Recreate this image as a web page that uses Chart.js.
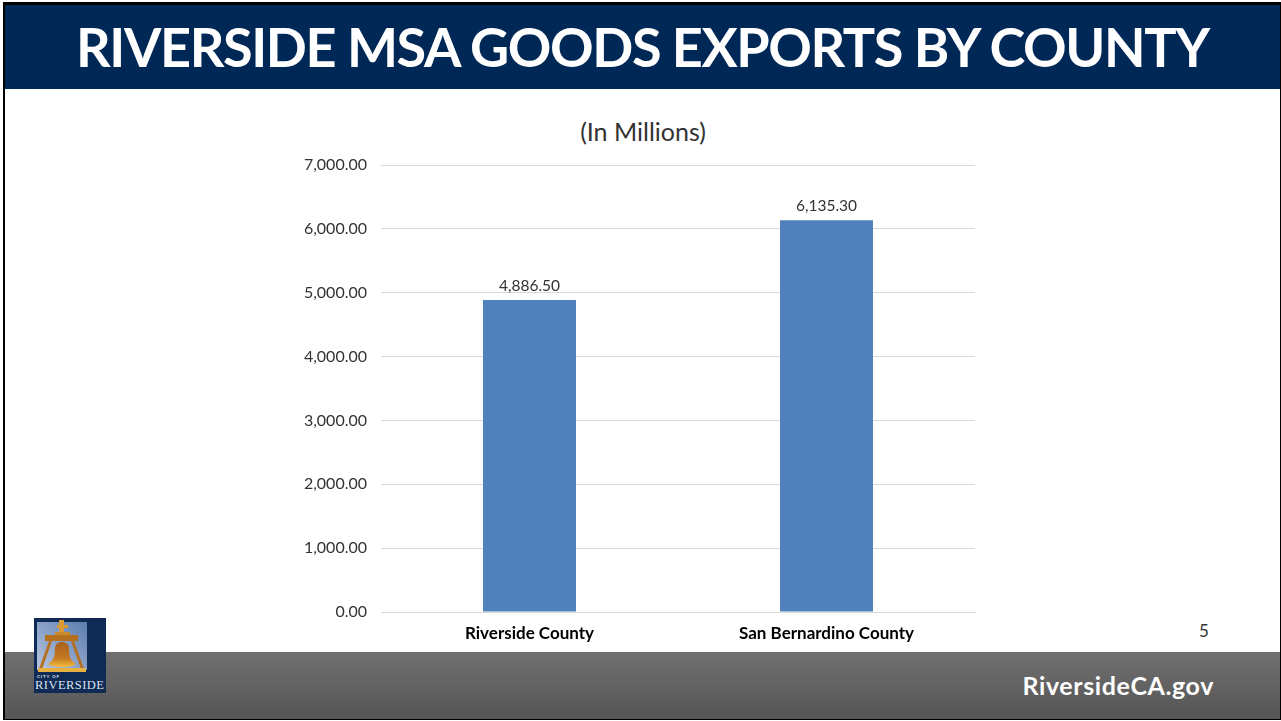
<!DOCTYPE html>
<html>
<head>
<meta charset="utf-8">
<title>Riverside MSA Goods Exports by County</title>
<script src="https://cdn.jsdelivr.net/npm/chart.js@4/dist/chart.umd.min.js"></script>
<style>
  html, body { margin: 0; padding: 0; width: 1281px; height: 721px; overflow: hidden; background: #fff; }
  body { position: relative; font-family: Lato, sans-serif; }
  .frame { position: absolute; left: 3px; top: 2px; width: 1278px; height: 718px; box-sizing: border-box;
           border: solid #000; border-width: 3px 1px 1px 2px; }
  .header { position: absolute; left: 5px; top: 5px; width: 1275px; height: 84px; background: #002856; }
  .header h1 { position: absolute; left: 71px; top: 10px; margin: 0; color: #fff; font: 700 54px/64px Lato, sans-serif;
               letter-spacing: -1.4px; white-space: nowrap; }
  .footer { position: absolute; left: 5px; top: 652px; width: 1275px; height: 67px;
            background: linear-gradient(#707070, #555); }
  .site { position: absolute; right: 67px; top: 669px; color: #fff; font: 700 25px/32px Lato, sans-serif; letter-spacing: .6px; }
  .page { position: absolute; left: 1199px; top: 620px; color: #333; font: 400 17px/22px Lato, sans-serif; }
  .logo { position: absolute; left: 34px; top: 618px; width: 72px; height: 75px; }
  .chartTitle { position: absolute; left: 443px; top: 116px; width: 400px; text-align: center; color: #333;
                font: 400 25px/30px Lato, sans-serif; }
  #chartBox { position: absolute; left: 200px; top: 110px; width: 886px; height: 540px; }
</style>
</head>
<body>
<div class="header"><h1>RIVERSIDE MSA GOODS EXPORTS BY COUNTY</h1></div>
<div class="footer"></div>
<div class="frame"></div>
<div class="site">RiversideCA.gov</div>
<div class="page">5</div>
<div class="chartTitle">(In Millions)</div>

<svg class="logo" viewBox="0 0 72 75">
  <defs>
    <linearGradient id="sky" x1="0" y1="1" x2="1" y2="0">
      <stop offset="0" stop-color="#b8c6e0"/><stop offset="1" stop-color="#5a7cae"/>
    </linearGradient>
    <linearGradient id="bell" x1="0" y1="0" x2="0" y2="1">
      <stop offset="0" stop-color="#a8601c"/><stop offset=".65" stop-color="#c47a22"/><stop offset="1" stop-color="#f4bc3a"/>
    </linearGradient>
  </defs>
  <rect width="72" height="75" fill="#0f2a55"/>
  <rect x="3" y="4" width="50" height="48" fill="url(#sky)"/>
  <rect x="25" y="2" width="5" height="16" fill="#d99a35"/>
  <rect x="23" y="7" width="11" height="3" fill="#d99a35"/>
  <rect x="21" y="14" width="15" height="3" fill="#c98a30"/>
  <rect x="11" y="17" width="33" height="6" fill="#b5701f"/>
  <path d="M15 23 L5 51 H8 L18 23 Z M40 23 L50 51 H47 L37 23 Z" fill="#b5701f"/>
  <path d="M21 31 C21 26 24 24 28 24 C32 24 35 26 35 31 C35 39 37 43 42 46 C38 50 18 50 14 46 C19 43 21 39 21 31 Z" fill="url(#bell)"/>
  <rect x="4" y="50" width="48" height="4" fill="#e8b040"/>
  <text x="3" y="60" font-family="Lato, sans-serif" font-size="4.5" font-weight="700" fill="#dfe6f2" textLength="22">CITY OF</text>
  <text x="1" y="71" font-family="Liberation Serif, serif" font-size="12.5" fill="#dde3ee" textLength="69" lengthAdjust="spacing">RIVERSIDE</text>
</svg>

<div id="chartBox"><canvas id="exportsChart"></canvas></div>

<script>
// Chart data
const counties = ['Riverside County', 'San Bernardino County'];
const exportsMillions = [4886.5, 6135.3];
const axisMax = 7000;
const axisStep = 1000;

function formatValue(value) {
  return value.toLocaleString('en-US', { minimumFractionDigits: 2, maximumFractionDigits: 2 });
}

// Value labels above the bars
const barValueLabels = {
  id: 'barValueLabels',
  afterDatasetsDraw(chart) {
    const ctx = chart.ctx;
    ctx.save();
    ctx.font = '400 15.5px Lato, sans-serif';
    ctx.fillStyle = '#333';
    ctx.textAlign = 'center';
    ctx.textBaseline = 'bottom';
    chart.getDatasetMeta(0).data.forEach((bar, i) => {
      ctx.fillText(formatValue(exportsMillions[i]), bar.x, bar.y - 6);
    });
    ctx.restore();
  }
};

new Chart(document.getElementById('exportsChart'), {
  type: 'bar',
  data: {
    labels: counties,
    datasets: [{
      data: exportsMillions,
      backgroundColor: '#4f81bd',
      barPercentage: 0.313,
      categoryPercentage: 1
    }]
  },
  options: {
    responsive: true,
    maintainAspectRatio: false,
    animation: false,
    layout: { padding: { left: 81, right: 111, top: 55, bottom: 0 } },
    plugins: {
      legend: { display: false },
      tooltip: { enabled: false },
      title: { display: false }
    },
    scales: {
      x: {
        afterFit(scale) { scale.height = 38; },
        grid: { display: false },
        border: { color: '#d9d9d9' },
        ticks: { color: '#000', padding: 3, maxRotation: 0, font: { family: 'Lato, sans-serif', size: 17, weight: '700' } }
      },
      y: {
        min: 0,
        max: axisMax,
        afterFit(scale) { scale.width = 100; },
        grid: { color: '#d9d9d9', drawTicks: false },
        border: { display: false },
        ticks: {
          stepSize: axisStep,
          color: '#333',
          padding: 14,
          font: { family: 'Lato, sans-serif', size: 16 },
          callback: value => formatValue(value)
        }
      }
    }
  },
  plugins: [barValueLabels]
});
</script>
</body>
</html>
